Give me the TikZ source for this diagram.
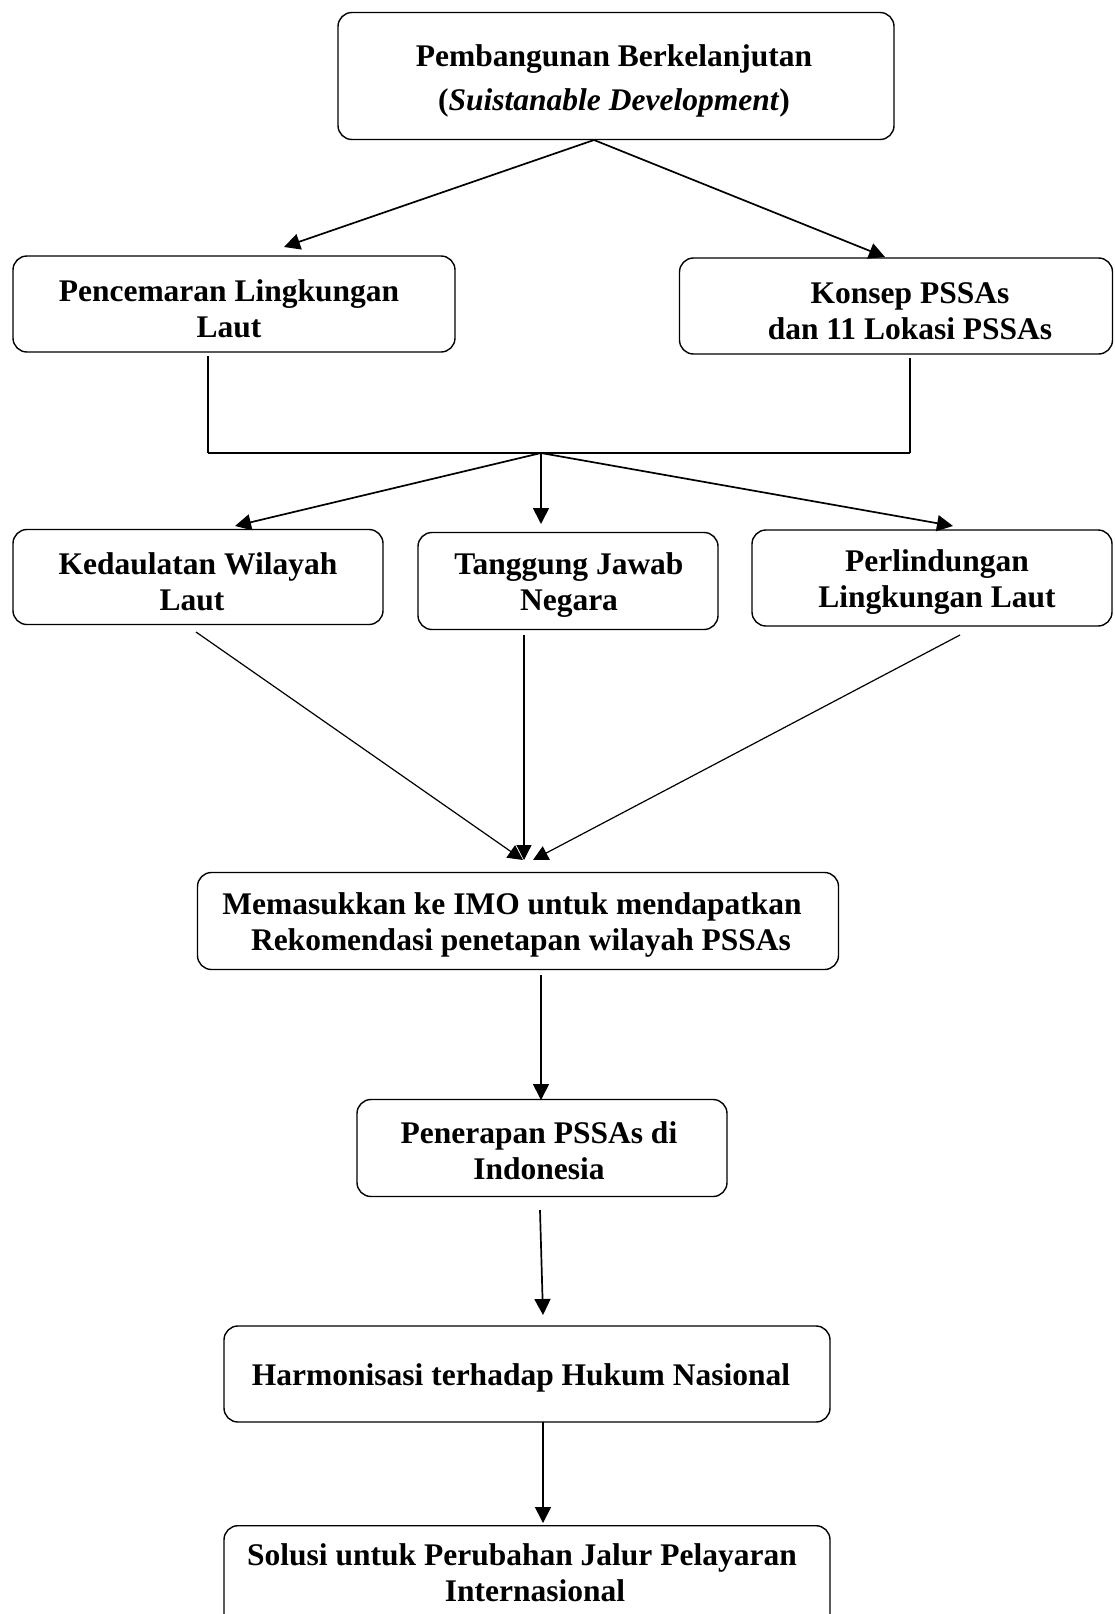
\documentclass[tikz,border=0pt]{standalone}
\usepackage{fontspec}
\setmainfont{Liberation Serif}
\usetikzlibrary{arrows.meta}
\begin{document}
\begin{tikzpicture}[x=1pt,y=-1pt,
  box/.style={draw, line width=1.4pt, rounded corners=14pt, rectangle, inner sep=0pt},
  txt/.style={align=center, inner sep=0pt, font=\fontsize{31.5}{36}\selectfont\bfseries},
  arr/.style={line width=1.7pt, -{Triangle[length=16pt,width=16pt]}},
  thin/.style={line width=1.2pt},
  thinarr/.style={line width=1.2pt, -{Triangle[length=15pt,width=15pt]}}]
\clip (0,0) rectangle (1115,1614);
\fill[white] (0,0) rectangle (1115,1614);
% boxes
\node[box, minimum width=556pt, minimum height=127pt] (top) at (616,76) {};
\node[box, minimum width=442pt, minimum height=96pt] (pen) at (234,304) {};
\node[box, minimum width=433pt, minimum height=96pt] (kon) at (896,306) {};
\node[box, minimum width=370pt, minimum height=95pt] (ked) at (198,577) {};
\node[box, minimum width=300pt, minimum height=97pt] (tan) at (568,581) {};
\node[box, minimum width=360pt, minimum height=96pt] (per) at (932,578) {};
\node[box, minimum width=641pt, minimum height=97pt] (mem) at (518,921) {};
\node[box, minimum width=370pt, minimum height=97pt] (pnr) at (542,1148) {};
\node[box, minimum width=606pt, minimum height=96pt] (har) at (527,1374) {};
\node[box, minimum width=606pt, minimum height=110pt, anchor=north] (sol) at (527,1525) {};
% texts
\node[txt, font=\fontsize{31.5}{44}\selectfont\bfseries] (toptext) at (614,81)
  {Pembangunan Berkelanjutan\\(\textit{Suistanable Development})};
\node[txt] (pentext) at (229,309) {Pencemaran Lingkungan\\Laut};
\node[txt] (kontext) at (910,311) {Konsep PSSAs\\dan 11 Lokasi PSSAs};
\node[txt] (kedtext) at (198,582) {Kedaulatan Wilayah\\Laut\hspace*{12pt}};
\node[txt] (tantext) at (569,585) {Tanggung Jawab\\Negara};
\node[txt] (pertext) at (937,582) {Perlindungan\\Lingkungan Laut};
\node[txt] (memtext) at (512,925) {Memasukkan ke IMO untuk mendapatkan\\\hspace*{18pt}Rekomendasi penetapan wilayah PSSAs};
\node[txt] (pnrtext) at (539,1151) {Penerapan PSSAs di\\Indonesia};
\node[txt] (hartext) at (521,1378) {Harmonisasi terhadap Hukum Nasional};
\node[txt] (soltext) at (522,1573) {Solusi untuk Perubahan Jalur Pelayaran\\\hspace*{26pt}Internasional};
% coordinates
\coordinate (t1) at (594,140);
\coordinate (a1) at (284,247);
\coordinate (a2) at (885,257);
\coordinate (l1) at (208,356);
\coordinate (l2) at (208,453);
\coordinate (r1) at (910,358);
\coordinate (r2) at (910,453);
\coordinate (j) at (541,453);
\coordinate (b1) at (235,526);
\coordinate (b2) at (541,524);
\coordinate (b3) at (953,526);
\coordinate (k1) at (196,632);
\coordinate (k2) at (524,635);
\coordinate (k3) at (960,635);
\coordinate (m1) at (523,860);
\coordinate (m2) at (524,860);
\coordinate (m3) at (533,860);
\coordinate (p1) at (541,975);
\coordinate (p2) at (541,1100);
\coordinate (q1) at (540,1210);
\coordinate (q2) at (543,1315);
\coordinate (h1) at (543,1422);
\coordinate (h2) at (543,1523);
% connectors
\draw[arr] (t1) -- (a1);
\draw[arr] (t1) -- (a2);
\draw[thin] (l1) -- (l2);
\draw[thin] (r1) -- (r2);
\draw[line width=1.7pt] (l2) -- (r2);
\draw[arr] (j) -- (b1);
\draw[arr] (j) -- (b2);
\draw[arr] (j) -- (b3);
\draw[thinarr] (k1) -- (m1);
\draw[thinarr] (k2) -- (m2);
\draw[thinarr] (k3) -- (m3);
\draw[arr] (p1) -- (p2);
\draw[arr] (q1) -- (q2);
\draw[arr] (h1) -- (h2);
\end{tikzpicture}
\end{document}
